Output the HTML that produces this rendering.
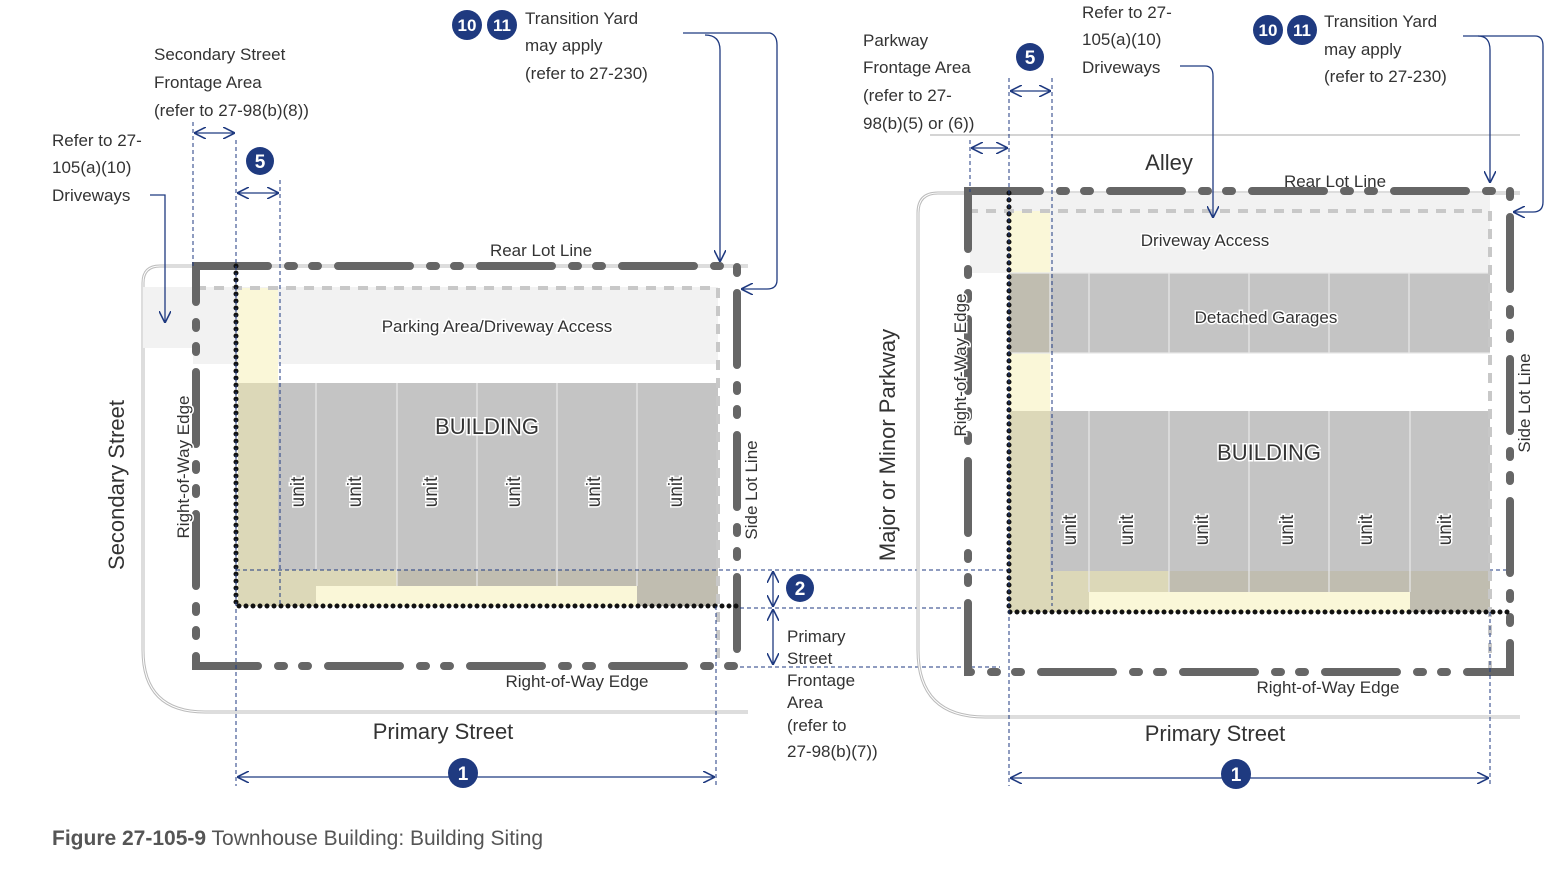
<!DOCTYPE html>
<html><head><meta charset="utf-8"><style>
body{margin:0;background:#fff;}
svg{display:block;font-family:"Liberation Sans",sans-serif;}
.t{font-size:17px;fill:#333;}
.big{font-size:22px;}
.bld{font-size:22px;}
.u{font-size:19px;}
.lot{fill:none;stroke:#666;stroke-width:8;stroke-linecap:round;stroke-dasharray:72 20 6 18 6 20;}
.inner{fill:none;stroke:#c8c8c8;stroke-width:4;stroke-dasharray:10 8;}
.dot{fill:none;stroke:#111;stroke-width:5;stroke-linecap:round;stroke-dasharray:0 7;}
.bd{fill:none;stroke:#1f3a80;stroke-width:1;stroke-dasharray:4 3;}
.bl{fill:none;stroke:#1f3a80;stroke-width:1.3;}
.st{fill:none;stroke:#bbb;stroke-width:3;}
.st2{fill:none;stroke:#fff;stroke-width:1;}
.cn{fill:#1f3a80;}
.cx{fill:#fff;font-weight:bold;font-size:19px;}
.cs{font-size:17px;}
.w{stroke:#fff;stroke-width:3;paint-order:stroke;}
</style></head><body>
<svg width="1551" height="873" viewBox="0 0 1551 873">
<defs>
<marker id="a" viewBox="0 0 10 10" refX="10" refY="5" markerWidth="12" markerHeight="12" orient="auto-start-reverse" markerUnits="userSpaceOnUse"><path d="M0,0 L10,5 L0,10" fill="none" stroke="#1f3a80" stroke-width="1.3"/></marker>
</defs>

<!-- LEFT PANEL -->
<path class="st" d="M748,266 H160 Q143,266 143,283 V650 Q143,712 205,712 H748"/>
<path class="st2" d="M748,266 H160 Q143,266 143,283 V650 Q143,712 205,712 H748"/>
<rect x="143" y="287" width="575" height="61" fill="#f2f2f2"/>
<rect x="193" y="287" width="525" height="77" fill="#f2f2f2"/>
<rect x="238" y="288" width="40" height="95" fill="#faf7d8"/>
<rect x="238" y="383" width="40" height="223" fill="#dcd8b8"/>
<rect x="278" y="383" width="440" height="187" fill="#c4c4c4"/>
<rect x="278" y="570" width="38" height="36" fill="#dcd8b8"/>
<rect x="316" y="570" width="81" height="16" fill="#dcd8b8"/>
<rect x="397" y="570" width="240" height="16" fill="#c0bdb0"/>
<rect x="316" y="586" width="321" height="20" fill="#faf7d8"/>
<rect x="637" y="570" width="81" height="36" fill="#c0bdb0"/>
<g stroke="#e8e8e8" stroke-width="1.2"><line x1="316" y1="383" x2="316" y2="570"/><line x1="397" y1="383" x2="397" y2="586"/><line x1="477" y1="383" x2="477" y2="586"/><line x1="557" y1="383" x2="557" y2="586"/><line x1="637" y1="383" x2="637" y2="586"/></g>
<path class="inner" d="M196,288 H718 V666"/>
<rect class="lot" x="196" y="266" width="541" height="400"/>
<path class="dot" d="M236,266 V606 H740"/>
<line class="bd" x1="193" y1="122" x2="193" y2="266"/>
<line class="bd" x1="236" y1="140" x2="236" y2="786"/>
<line class="bd" x1="280" y1="180" x2="280" y2="606"/>
<line class="bd" x1="716" y1="606" x2="716" y2="786"/>
<line class="bd" x1="236" y1="570" x2="1515" y2="570"/>
<line class="bd" x1="740" y1="608" x2="970" y2="608"/>
<line class="bd" x1="740" y1="667" x2="1000" y2="667"/>
<line class="bl" x1="194" y1="133" x2="235" y2="133" marker-start="url(#a)" marker-end="url(#a)"/>
<line class="bl" x1="237" y1="193" x2="279" y2="193" marker-start="url(#a)" marker-end="url(#a)"/>
<line class="bl" x1="237" y1="777" x2="450" y2="777" marker-start="url(#a)"/>
<line class="bl" x1="477" y1="777" x2="715" y2="777" marker-end="url(#a)"/>
<line class="bl" x1="773" y1="571" x2="773" y2="607" marker-start="url(#a)" marker-end="url(#a)"/>
<line class="bl" x1="773" y1="609" x2="773" y2="665" marker-start="url(#a)" marker-end="url(#a)"/>
<path class="bl" d="M150,195 H165 V323" marker-end="url(#a)"/>
<path class="bl" d="M683,33 H770 Q777,35 777,45 V280 Q777,289 767,289 H741" marker-end="url(#a)"/>
<path class="bl" d="M705,35 Q720,35 720,50 V262" marker-end="url(#a)"/>
<circle class="cn" cx="260" cy="161" r="14"/><text class="cx" x="260" y="168" text-anchor="middle">5</text>
<circle class="cn" cx="463" cy="773" r="15"/><text class="cx" x="463" y="780" text-anchor="middle">1</text>
<circle class="cn" cx="800" cy="588" r="14"/><text class="cx" x="800" y="595" text-anchor="middle">2</text>
<circle class="cn" cx="467" cy="25" r="15"/><text class="cx cs" x="467" y="31" text-anchor="middle">10</text>
<circle class="cn" cx="502" cy="25" r="15"/><text class="cx cs" x="502" y="31" text-anchor="middle">11</text>
<text class="t" x="525" y="24">Transition Yard</text>
<text class="t" x="525" y="51">may apply</text>
<text class="t" x="525" y="79">(refer to 27-230)</text>
<text class="t" x="154" y="60">Secondary Street</text>
<text class="t" x="154" y="88">Frontage Area</text>
<text class="t" x="154" y="116">(refer to 27-98(b)(8))</text>
<text class="t" x="52" y="146">Refer to 27-</text>
<text class="t" x="52" y="173">105(a)(10)</text>
<text class="t" x="52" y="201">Driveways</text>
<text class="t" x="541" y="256" text-anchor="middle">Rear Lot Line</text>
<text class="t w" x="497" y="332" text-anchor="middle">Parking Area/Driveway Access</text>
<text class="t w bld" x="487" y="434" text-anchor="middle">BUILDING</text>
<g class="t w u" text-anchor="middle">
<text transform="translate(304,492) rotate(-90)">unit</text>
<text transform="translate(361,492) rotate(-90)">unit</text>
<text transform="translate(437,492) rotate(-90)">unit</text>
<text transform="translate(520,492) rotate(-90)">unit</text>
<text transform="translate(600,492) rotate(-90)">unit</text>
<text transform="translate(682,492) rotate(-90)">unit</text>
</g>
<text class="t big" transform="translate(124,485) rotate(-90)" text-anchor="middle">Secondary Street</text>
<text class="t w" transform="translate(189,467) rotate(-90)" text-anchor="middle">Right-of-Way Edge</text>
<text class="t w" transform="translate(757,490) rotate(-90)" text-anchor="middle">Side Lot Line</text>
<text class="t" x="577" y="687" text-anchor="middle">Right-of-Way Edge</text>
<text class="t big" x="443" y="739" text-anchor="middle">Primary Street</text>
<text class="t" x="787" y="642">Primary</text>
<text class="t" x="787" y="664">Street</text>
<text class="t" x="787" y="686">Frontage</text>
<text class="t" x="787" y="708">Area</text>
<text class="t" x="787" y="731">(refer to</text>
<text class="t" x="787" y="757">27-98(b)(7))</text>

<!-- RIGHT PANEL -->
<line x1="930" y1="135" x2="1520" y2="135" stroke="#bbb" stroke-width="1.2"/>
<path class="st" d="M1520,193 H938 Q918,193 918,213 V650 Q918,717 985,717 H1520"/>
<path class="st2" d="M1520,193 H938 Q918,193 918,213 V650 Q918,717 985,717 H1520"/>
<rect x="970" y="193" width="520" height="80" fill="#f2f2f2"/>
<rect x="1009" y="211" width="41" height="62" fill="#faf7d8"/>
<rect x="1009" y="273" width="481" height="80" fill="#c4c4c4"/>
<rect x="1009" y="273" width="41" height="80" fill="#c0bdb0"/>
<rect x="1009" y="353" width="41" height="58" fill="#faf7d8"/>
<rect x="1050" y="411" width="440" height="160" fill="#c4c4c4"/>
<rect x="1009" y="411" width="41" height="201" fill="#dcd8b8"/>
<rect x="1050" y="571" width="119" height="21" fill="#dcd8b8"/>
<rect x="1050" y="592" width="39" height="20" fill="#dcd8b8"/>
<rect x="1169" y="571" width="241" height="21" fill="#c0bdb0"/>
<rect x="1089" y="592" width="321" height="20" fill="#faf7d8"/>
<rect x="1410" y="571" width="80" height="41" fill="#c0bdb0"/>
<g stroke="#e8e8e8" stroke-width="1.2"><line x1="1050" y1="273" x2="1050" y2="353"/><line x1="1089" y1="273" x2="1089" y2="353"/><line x1="1169" y1="273" x2="1169" y2="353"/><line x1="1249" y1="273" x2="1249" y2="353"/><line x1="1329" y1="273" x2="1329" y2="353"/><line x1="1409" y1="273" x2="1409" y2="353"/>
<line x1="1089" y1="411" x2="1089" y2="592"/><line x1="1169" y1="411" x2="1169" y2="592"/><line x1="1249" y1="411" x2="1249" y2="592"/><line x1="1329" y1="411" x2="1329" y2="592"/><line x1="1410" y1="411" x2="1410" y2="592"/><line x1="1009" y1="273" x2="1490" y2="273"/><line x1="1009" y1="353" x2="1490" y2="353"/></g>
<path class="inner" d="M968,211 H1490 V672"/>
<rect class="lot" x="968" y="191" width="542" height="481"/>
<path class="dot" d="M1009,193 V612 H1510"/>
<line class="bd" x1="970" y1="140" x2="970" y2="192"/>
<line class="bd" x1="1009" y1="78" x2="1009" y2="786"/>
<line class="bd" x1="1052" y1="78" x2="1052" y2="606"/>
<line class="bd" x1="1490" y1="612" x2="1490" y2="786"/>
<line class="bl" x1="971" y1="148" x2="1008" y2="148" marker-start="url(#a)" marker-end="url(#a)"/>
<line class="bl" x1="1010" y1="91" x2="1051" y2="91" marker-start="url(#a)" marker-end="url(#a)"/>
<line class="bl" x1="1010" y1="778" x2="1222" y2="778" marker-start="url(#a)"/>
<line class="bl" x1="1250" y1="778" x2="1489" y2="778" marker-end="url(#a)"/>
<path class="bl" d="M1180,66 H1205 Q1213,66 1213,76 V218" marker-end="url(#a)"/>
<path class="bl" d="M1463,36 H1535 Q1543,36 1543,46 V202 Q1543,212 1533,212 H1513" marker-end="url(#a)"/>
<path class="bl" d="M1478,36 Q1490,36 1490,50 V183" marker-end="url(#a)"/>
<circle class="cn" cx="1030" cy="57" r="14"/><text class="cx" x="1030" y="64" text-anchor="middle">5</text>
<circle class="cn" cx="1236" cy="774" r="15"/><text class="cx" x="1236" y="781" text-anchor="middle">1</text>
<circle class="cn" cx="1268" cy="30" r="15"/><text class="cx cs" x="1268" y="36" text-anchor="middle">10</text>
<circle class="cn" cx="1302" cy="30" r="15"/><text class="cx cs" x="1302" y="36" text-anchor="middle">11</text>
<text class="t" x="1324" y="27">Transition Yard</text>
<text class="t" x="1324" y="55">may apply</text>
<text class="t" x="1324" y="82">(refer to 27-230)</text>
<text class="t" x="863" y="46">Parkway</text>
<text class="t" x="863" y="73">Frontage Area</text>
<text class="t" x="863" y="101">(refer to 27-</text>
<text class="t" x="863" y="129">98(b)(5) or (6))</text>
<text class="t" x="1082" y="18">Refer to 27-</text>
<text class="t" x="1082" y="45">105(a)(10)</text>
<text class="t" x="1082" y="73">Driveways</text>
<text class="t big" x="1169" y="170" text-anchor="middle">Alley</text>
<text class="t" x="1335" y="187" text-anchor="middle">Rear Lot Line</text>
<text class="t w" x="1205" y="246" text-anchor="middle">Driveway Access</text>
<text class="t w" x="1266" y="323" text-anchor="middle">Detached Garages</text>
<text class="t w bld" x="1269" y="460" text-anchor="middle">BUILDING</text>
<g class="t w u" text-anchor="middle">
<text transform="translate(1076,530) rotate(-90)">unit</text>
<text transform="translate(1133,530) rotate(-90)">unit</text>
<text transform="translate(1208,530) rotate(-90)">unit</text>
<text transform="translate(1293,530) rotate(-90)">unit</text>
<text transform="translate(1372,530) rotate(-90)">unit</text>
<text transform="translate(1451,530) rotate(-90)">unit</text>
</g>
<text class="t big" transform="translate(895,445) rotate(-90)" text-anchor="middle">Major or Minor Parkway</text>
<text class="t w" transform="translate(966,365) rotate(-90)" text-anchor="middle">Right-of-Way Edge</text>
<text class="t w" transform="translate(1530,403) rotate(-90)" text-anchor="middle">Side Lot Line</text>
<text class="t" x="1328" y="693" text-anchor="middle">Right-of-Way Edge</text>
<text class="t big" x="1215" y="741" text-anchor="middle">Primary Street</text>

<text x="52" y="845" style="font-size:21px" fill="#555"><tspan font-weight="bold">Figure 27-105-9</tspan> Townhouse Building: Building Siting</text>
</svg>
</body></html>
